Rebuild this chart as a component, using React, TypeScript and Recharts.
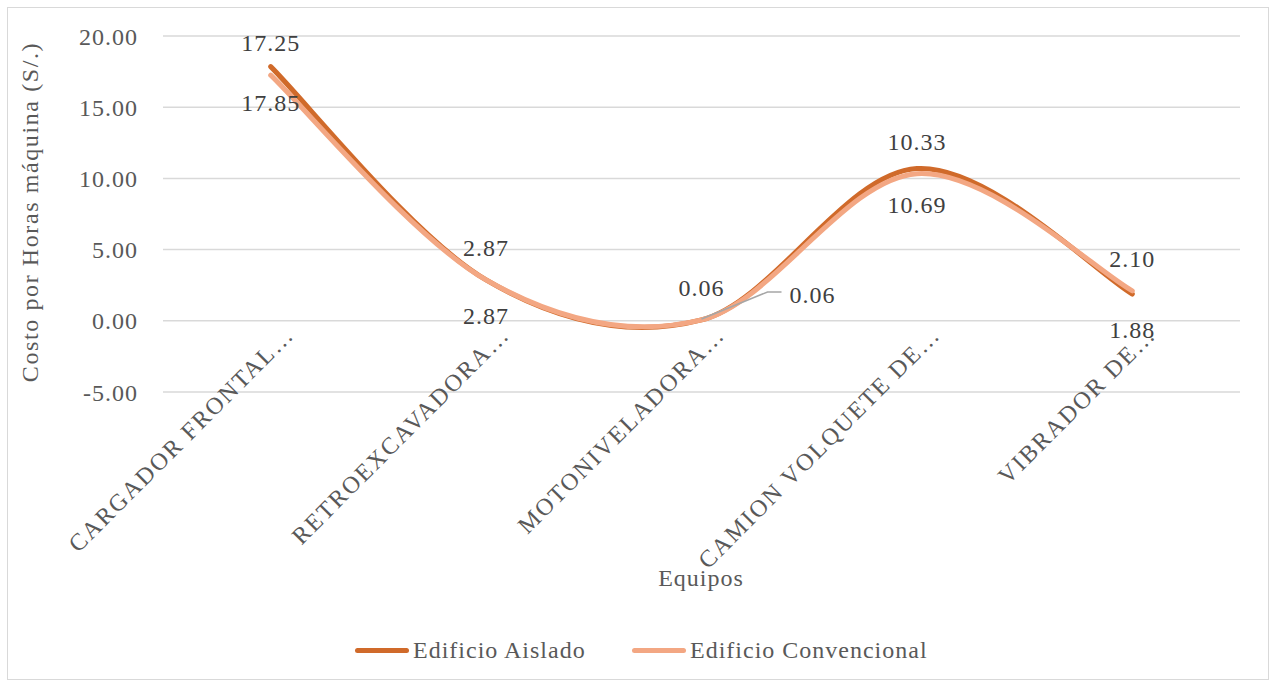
import React from "react"
import { LineChart, Line, XAxis, YAxis, CartesianGrid, LabelList } from "recharts"

const equipos = ["CARGADOR FRONTAL…", "RETROEXCAVADORA…", "MOTONIVELADORA…", "CAMION VOLQUETE DE…", "VIBRADOR DE…"]
const aislado = [17.85, 2.87, 0.06, 10.69, 1.88]
const convencional = [17.25, 2.87, 0.06, 10.33, 2.1]
const yTicks = [-5, 0, 5, 10, 15, 20]

const DARK = "#D06A2A"
const LIGHT = "#F3A783"
const FONT = "'Liberation Serif', 'Times New Roman', serif"

const data = equipos.map((name, i) => ({ name, aislado: aislado[i], convencional: convencional[i] }))

// Excel-like smoothing (uniform Catmull-Rom through every point)
const excelSmooth = (context: any) => {
  let pts: number[][] = []
  return {
    areaStart() {},
    areaEnd() {},
    lineStart() {
      pts = []
    },
    point(x: number, y: number) {
      pts.push([+x, +y])
    },
    lineEnd() {
      const n = pts.length
      if (!n) return
      context.moveTo(pts[0][0], pts[0][1])
      if (n === 1) return
      for (let i = 0; i < n - 1; i++) {
        const p0 = pts[Math.max(i - 1, 0)]
        const p1 = pts[i]
        const p2 = pts[i + 1]
        const p3 = pts[Math.min(i + 2, n - 1)]
        context.bezierCurveTo(
          p1[0] + (p2[0] - p0[0]) / 6,
          p1[1] + (p2[1] - p0[1]) / 6,
          p2[0] - (p3[0] - p1[0]) / 6,
          p2[1] - (p3[1] - p1[1]) / 6,
          p2[0],
          p2[1]
        )
      }
    },
  }
}

const textStyle = { fontFamily: FONT, fontSize: 24, letterSpacing: 1 }

const CategoryTick = ({ x, y, payload }: any) => {
  const ax = x + 25
  const ay = y - 56
  return (
    <text
      x={ax}
      y={ay}
      transform={`rotate(-45, ${ax}, ${ay})`}
      textAnchor="end"
      fill="#595959"
      style={{ ...textStyle, letterSpacing: 2 }}
    >
      {payload.value}
    </text>
  )
}

const fmt = (v: number) => v.toFixed(2)

const LabelAbove = ({ x, y, value }: any) => (
  <text x={x} y={y - 24} textAnchor="middle" fill="#404040" style={textStyle}>
    {fmt(value)}
  </text>
)

const LabelBelow = ({ x, y, value, index }: any) => {
  if (index === 2) {
    // moved label with leader line
    return (
      <g>
        <polyline points={`${x},${y - 1} ${x + 66},${y - 28} ${x + 80},${y - 28}`} fill="none" stroke="#A6A6A6" strokeWidth={1.5} />
        <text x={x + 88} y={y - 17} textAnchor="start" fill="#404040" style={textStyle}>
          {fmt(value)}
        </text>
      </g>
    )
  }
  return (
    <text x={x} y={y + 44} textAnchor="middle" fill="#404040" style={textStyle}>
      {fmt(value)}
    </text>
  )
}

const LegendItem = ({ color, label, left }: { color: string; label: string; left: number }) => (
  <div style={{ position: "absolute", left, top: 634, height: 32, display: "flex", alignItems: "center" }}>
    <div style={{ width: 54, height: 5, borderRadius: 3, background: color, marginRight: 4 }} />
    <span style={{ ...textStyle, color: "#595959", whiteSpace: "nowrap" }}>{label}</span>
  </div>
)

export default function App() {
  return (
    <div style={{ position: "absolute", left: 0, top: 0, width: 1272, height: 684, background: "#fff" }}>
      <div
        style={{
          position: "absolute",
          left: 7,
          top: 7,
          width: 1262,
          height: 673,
          border: "1.5px solid #D9D9D9",
          boxSizing: "border-box",
        }}
      />
      <div style={{ position: "absolute", left: 0, top: 0 }}>
        <LineChart width={1272} height={684} data={data} margin={{ top: 36, right: 32, left: 13, bottom: 42 }}>
          <CartesianGrid vertical={false} stroke="#D9D9D9" strokeWidth={1.5} />
          <XAxis
            dataKey="name"
            interval={0}
            axisLine={false}
            tickLine={false}
            tickSize={0}
            tickMargin={0}
            height={250}
            padding={{ left: 107.7, right: 107.7 }}
            tick={<CategoryTick />}
            label={{
              content: () => (
                <text x={701} y={586} textAnchor="middle" fill="#595959" style={textStyle}>
                  Equipos
                </text>
              ),
            }}
          />
          <YAxis
            domain={[-5, 20]}
            ticks={yTicks}
            tickFormatter={fmt}
            axisLine={false}
            tickLine={false}
            tickSize={0}
            tickMargin={25}
            width={150}
            tick={{ fill: "#595959", style: textStyle } as any}
            label={{
              content: () => (
                <text
                  x={38}
                  y={212}
                  transform="rotate(-90, 38, 212)"
                  textAnchor="middle"
                  fill="#595959"
                  style={{ ...textStyle, letterSpacing: 1.6 }}
                >
                  Costo por Horas máquina (S/.)
                </text>
              ),
            }}
          />
          <Line
            dataKey="aislado"
            name="Edificio Aislado"
            type={excelSmooth as any}
            stroke={DARK}
            strokeWidth={5}
            strokeLinecap="round"
            dot={false}
            activeDot={false}
            isAnimationActive={false}
          >
            <LabelList dataKey="aislado" content={<LabelBelow />} />
          </Line>
          <Line
            dataKey="convencional"
            name="Edificio Convencional"
            type={excelSmooth as any}
            stroke={LIGHT}
            strokeWidth={5}
            strokeLinecap="round"
            dot={false}
            activeDot={false}
            isAnimationActive={false}
          >
            <LabelList dataKey="convencional" content={<LabelAbove />} />
          </Line>
        </LineChart>
      </div>
      <LegendItem color={DARK} label="Edificio Aislado" left={355} />
      <LegendItem color={LIGHT} label="Edificio Convencional" left={632} />
    </div>
  )
}
